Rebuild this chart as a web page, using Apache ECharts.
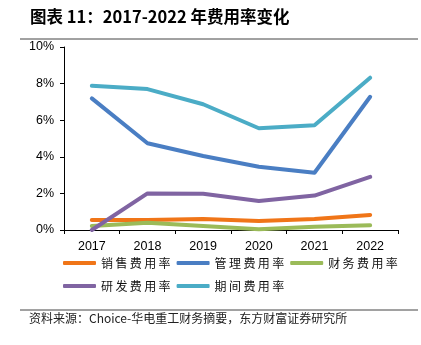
<!DOCTYPE html>
<html>
<head>
<meta charset="utf-8">
<script src="https://cdn.jsdelivr.net/npm/echarts@6/dist/echarts.min.js"></script>
<style>
  html, body { margin: 0; padding: 0; background: #fff; }
  #chart { width: 421px; height: 345px; }
</style>
</head>
<body>
<div id="chart"></div>
<script>
// Expense ratios (%) by year
const years = ['2017', '2018', '2019', '2020', '2021', '2022'];
const sellingRate = [0.55, 0.55, 0.60, 0.49, 0.60, 0.82];
const adminRate = [7.19, 4.74, 4.04, 3.46, 3.13, 7.28];
const financeRate = [0.22, 0.40, 0.22, 0.04, 0.18, 0.26];
const rdRate = [0.0, 2.00, 1.98, 1.58, 1.88, 2.90];
const periodRate = [7.88, 7.70, 6.87, 5.56, 5.72, 8.32];
const yTicks = [0, 2, 4, 6, 8, 10];

const names = ['销售费用率', '管理费用率', '财务费用率', '研发费用率', '期间费用率'];
const colors = ['#F07518', '#4A7EC3', '#9BBB59', '#8064A2', '#4BACC6'];
const values = [sellingRate, adminRate, financeRate, rdRate, periodRate];

const chart = echarts.init(document.getElementById('chart'), null, { renderer: 'canvas' });

const axisFont = { fontFamily: 'Liberation Sans, Arial, sans-serif', fontSize: 12.5, color: '#000' };
const legendCommon = {
  icon: 'roundRect',
  itemWidth: 33,
  itemHeight: 4,
  itemGap: 6,
  orient: 'horizontal',
  padding: 0,
  // spread the characters out a little
  formatter: n => n.split('').join('\u2009'),
  textStyle: { fontFamily: 'Noto Sans CJK SC', fontSize: 12, color: '#111' }
};

chart.setOption({
  animation: false,
  backgroundColor: '#fff',
  grid: { left: 64, right: 23, top: 47, bottom: 115, containLabel: false },
  legend: [
    Object.assign({ left: 63, top: 257, data: names.slice(0, 3) }, legendCommon),
    Object.assign({ left: 63, top: 280, data: names.slice(3) }, legendCommon)
  ],
  xAxis: {
    type: 'category',
    data: years,
    boundaryGap: true,
    axisLine: { lineStyle: { color: '#000', width: 1 } },
    axisTick: { show: true, length: 4, lineStyle: { color: '#000' } },
    axisLabel: Object.assign({ margin: 10 }, axisFont)
  },
  yAxis: {
    type: 'value',
    min: yTicks[0],
    max: yTicks[yTicks.length - 1],
    interval: 2,
    axisLine: { show: true, lineStyle: { color: '#000', width: 1 } },
    axisTick: { show: true, length: 4, lineStyle: { color: '#000' } },
    splitLine: { show: false },
    axisLabel: Object.assign({ margin: 10, formatter: '{value}%' }, axisFont)
  },
  series: names.map((n, i) => ({
    name: n,
    type: 'line',
    data: values[i],
    showSymbol: false,
    symbol: 'none',
    color: colors[i],
    lineStyle: { width: 4, color: colors[i], cap: 'round', join: 'round' },
    z: 2 + i
  })),
  graphic: [
    {
      type: 'text', left: 30, top: 8,
      style: {
        text: '图表 11：2017-2022 年费用率变化',
        font: 'bold 16.5px "Noto Sans CJK SC"',
        fill: '#000'
      }
    },
    {
      type: 'line', shape: { x1: 20, y1: 39, x2: 418, y2: 39 },
      style: { stroke: '#444', lineWidth: 1 }
    },
    {
      type: 'line', shape: { x1: 20, y1: 310, x2: 418, y2: 310 },
      style: { stroke: '#444', lineWidth: 1 }
    },
    {
      type: 'text', left: 29, top: 312,
      style: {
        text: '资料来源：Choice-华电重工财务摘要，东方财富证券研究所',
        font: '12px "Noto Sans CJK SC"',
        fill: '#222'
      }
    }
  ]
});
</script>
</body>
</html>
